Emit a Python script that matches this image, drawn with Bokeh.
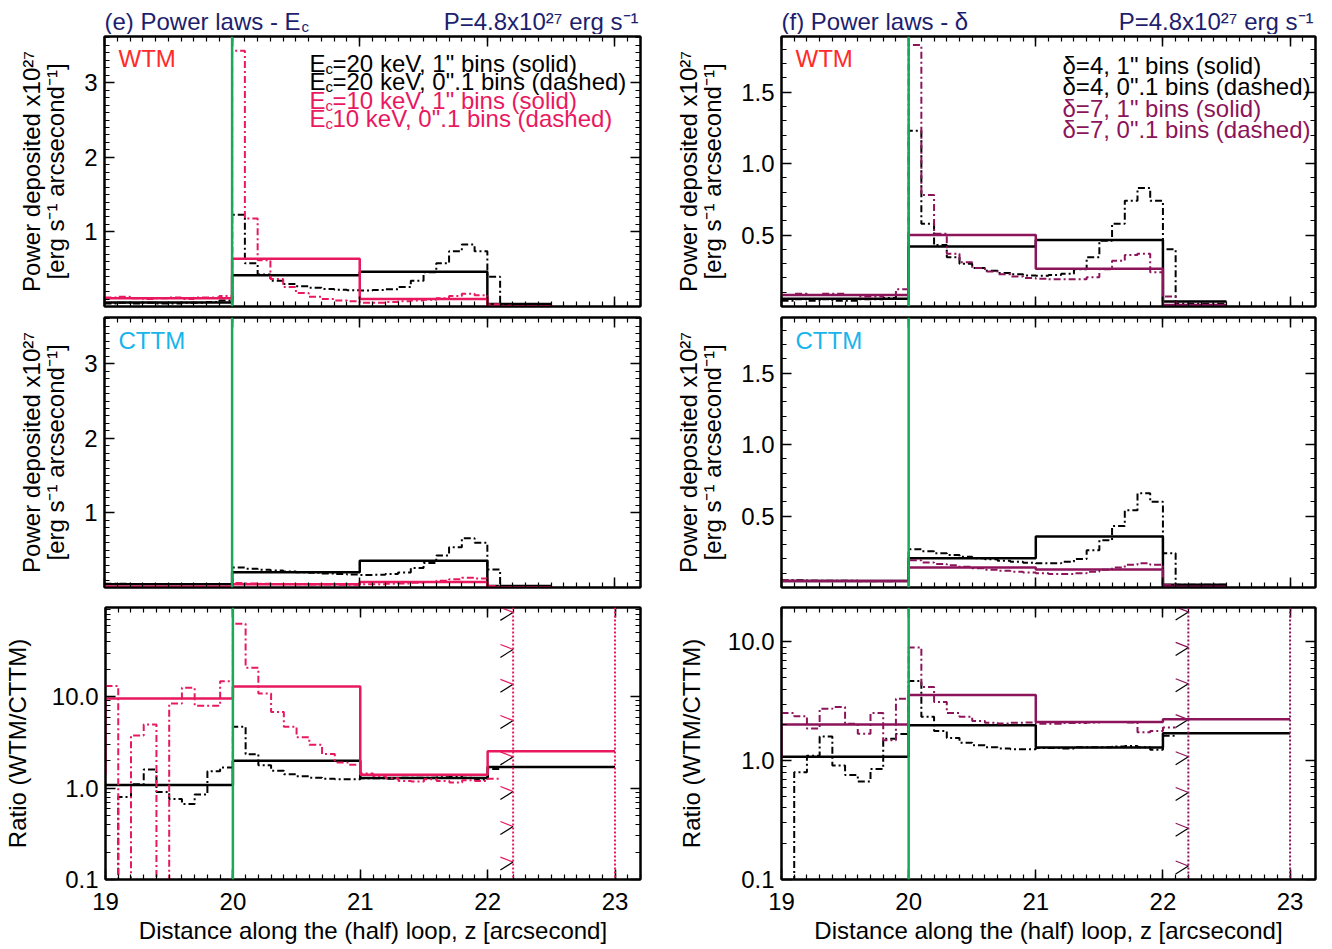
import numpy as np
from bokeh.plotting import figure
from bokeh.models import (Range1d, FixedTicker, LinearAxis, LogAxis, Label, Span,
                          CustomJSTickFormatter, PrintfTickFormatter)
from bokeh.layouts import column, row
from bokeh.embed import file_html
from bokeh.resources import INLINE

FONT = "Liberation Sans"
BLACK = "#000000"
PINK = "#e8195f"
PURPLE = "#8c145a"
GREEN = "#1aa85a"
NAVY = "#1e1e6e"
RED = "#ff2a2a"
CYAN = "#18b4ec"
DASHDOT = "7 3 2 3"

# ---------------- data ----------------
coarse_edges = [19.0, 20.0, 21.0, 22.0, 22.5]
ratio_coarse_edges = [19.0, 20.0, 21.0, 22.0, 23.0]
fine_start = 19.0
fine_step = 0.1
n_fine_power = 35
n_fine_ratio = 31

# power deposited (x1e27 erg/s/arcsec), WTM, 0.1" bins (z = 19.0 .. 22.5)
wtm_fine_ref = [0.04, 0.05, 0.04, 0.05, 0.04, 0.04, 0.05, 0.05, 0.06, 0.08,
                1.23, 0.58, 0.43, 0.345, 0.30, 0.27, 0.25, 0.235, 0.225, 0.217,
                0.215, 0.22, 0.23, 0.26, 0.345, 0.46, 0.58, 0.74, 0.83, 0.74,
                0.40, 0.02, 0.02, 0.02, 0.02]
wtm_fine_ec10 = [0.12, 0.13, 0.11, 0.10, 0.11, 0.12, 0.10, 0.12, 0.12, 0.14,
                 3.43, 1.18, 0.62, 0.37, 0.26, 0.18, 0.13, 0.10, 0.08, 0.07,
                 0.05, 0.05, 0.06, 0.07, 0.08, 0.09, 0.11, 0.14, 0.17, 0.15,
                 0.03, 0.01, 0.005, 0.005, 0.005]
wtm_fine_d7 = [0.08, 0.09, 0.08, 0.09, 0.09, 0.08, 0.07, 0.07, 0.08, 0.12,
               1.83, 0.78, 0.51, 0.37, 0.31, 0.27, 0.245, 0.225, 0.21, 0.20,
               0.195, 0.19, 0.19, 0.19, 0.205, 0.26, 0.32, 0.36, 0.37, 0.24,
               0.07, 0.01, 0.01, 0.01, 0.01]
# CTTM, 0.1" bins
cttm_fine_ref = [0.05, 0.05, 0.048, 0.048, 0.047, 0.047, 0.046, 0.046, 0.046, 0.046,
                 0.267, 0.253, 0.239, 0.227, 0.215, 0.204, 0.197, 0.187, 0.18, 0.173,
                 0.169, 0.17, 0.18, 0.20, 0.26, 0.33, 0.43, 0.54, 0.66, 0.60,
                 0.24, 0.02, 0.02, 0.02, 0.02]
cttm_fine_ec10 = [0.012, 0.011, 0.011, 0.01, 0.01, 0.01, 0.01, 0.009, 0.009, 0.009,
                  0.06, 0.055, 0.05, 0.048, 0.045, 0.043, 0.041, 0.04, 0.038, 0.037,
                  0.045, 0.045, 0.05, 0.055, 0.065, 0.075, 0.09, 0.11, 0.13, 0.12,
                  0.02, 0.002, 0.002, 0.002, 0.002]
cttm_fine_d7 = [0.05, 0.048, 0.047, 0.046, 0.045, 0.045, 0.044, 0.044, 0.044, 0.045,
                0.19, 0.175, 0.165, 0.155, 0.145, 0.135, 0.125, 0.118, 0.11, 0.105,
                0.10, 0.095, 0.095, 0.10, 0.11, 0.125, 0.14, 0.16, 0.17, 0.16,
                0.02, 0.003, 0.003, 0.003, 0.003]
# 1" bins
wtm_coarse_ref = [0.055, 0.42, 0.465, 0.035]
wtm_coarse_ec10 = [0.11, 0.64, 0.10, 0.005]
wtm_coarse_d7 = [0.08, 0.50, 0.265, 0.01]
cttm_coarse_ref = [0.045, 0.204, 0.357, 0.02]
cttm_coarse_ec10 = [0.01, 0.045, 0.075, 0.003]
cttm_coarse_d7 = [0.045, 0.14, 0.126, 0.005]

# ratio WTM/CTTM, 1" bins (z = 19 .. 23)
ratio_coarse_ref = [1.08, 1.99, 1.29, 1.70]
ratio_coarse_ec10 = [9.6, 13.0, 1.40, 2.54]
ratio_coarse_ec10_start = 1.40
ratio_coarse_d7 = [2.02, 3.57, 2.12, 2.23]
ratio_coarse_d7_start = 1.07
# ratio, 0.1" bins (z = 19.0 .. 22.1)
ratio_fine_ref = [0.05, 0.80, 1.10, 1.60, 0.91, 0.76, 0.67, 0.85, 1.53, 1.68,
                  4.7, 2.35, 1.78, 1.55, 1.42, 1.35, 1.30, 1.27, 1.25, 1.25,
                  1.28, 1.28, 1.27, 1.30, 1.30, 1.30, 1.32, 1.33, 1.30, 1.24,
                  1.62]
ratio_fine_ec10 = [13.1, 0.05, 3.77, 4.98, 0.05, 8.45, 12.6, 8.0, 8.0, 14.8,
                   63.0, 20.8, 10.9, 6.8, 4.7, 3.6, 2.98, 2.36, 1.91, 1.8,
                   1.45, 1.36, 1.28, 1.20, 1.18, 1.25, 1.20, 1.15, 1.22, 1.20,
                   1.27]
ratio_fine_d7 = [2.52, 2.37, 1.87, 2.74, 2.83, 2.05, 1.69, 2.52, 1.49, 3.33,
                 9.0, 4.17, 3.12, 2.52, 2.35, 2.16, 2.09, 2.06, 2.09, 2.10,
                 2.05, 2.05, 2.08, 2.08, 2.10, 2.12, 2.12, 2.10, 1.74, 1.78,
                 1.90]

transition_z = 20.0
limit_z = [22.2, 23.0]
marker_z = 22.2
marker_y_left = [84, 33, 13.7, 5.5, 2.2, 0.92, 0.38, 0.155]
marker_y_right = [17.9, 9.0, 4.45, 2.22, 1.08, 0.54, 0.27, 0.13]

x_major = [19, 20, 21, 22, 23]
x_range = (19.0, 23.2)
yr_left = (0.0, 3.62)
yr_right = (0.0, 1.89)
yr_ratio_left = (0.1, 95.0)
yr_ratio_right = (0.1, 19.5)

x_minor = [round(19.0 + 0.1 * i, 2) for i in range(43)]
lin_left_major = [1, 2, 3]
lin_right_major = [0.5, 1.0, 1.5]
lin_minor = [round(0.1 * i, 2) for i in range(37)]
log_major = [0.1, 1.0, 10.0, 100.0]
log_minor = [m * d for d in (0.1, 1.0, 10.0) for m in range(2, 10)]

POWER_LABEL = "Power deposited x10²⁷\n[erg s⁻¹ arcsecond⁻¹]"
RATIO_LABEL = "Ratio (WTM/CTTM)"
X_LABEL = "Distance along the (half) loop, z [arcsecond]"


def fine_edges(n):
    return [round(fine_start + fine_step * i, 2) for i in range(n + 1)]


def steps(edges, vals, start=None):
    xs, ys = [], []
    if start is not None:
        xs.append(edges[0]); ys.append(start)
    for i, v in enumerate(vals):
        xs += [edges[i], edges[i + 1]]
        ys += [v, v]
    return xs, ys


BLANK = CustomJSTickFormatter(code="return ''")


def style_axis(ax, standoff):
    ax.axis_line_width = 2
    ax.axis_line_color = "black"
    ax.major_tick_in = 10
    ax.major_tick_out = 0
    ax.minor_tick_in = 5
    ax.minor_tick_out = 0
    ax.major_tick_line_width = 1.5
    ax.minor_tick_line_width = 1.2
    ax.major_label_text_font = FONT
    ax.major_label_text_font_size = "24px"
    ax.major_label_text_color = "black"
    ax.major_label_standoff = standoff
    ax.axis_label_text_font = FONT
    ax.axis_label_text_font_size = "24px"
    ax.axis_label_text_font_style = "normal"
    ax.axis_label_text_color = "black"
    ax.axis_label_text_line_height = 0.88


def make_panel(width, height, bl, br, bt, bb, yr, log, ymajor, yminor, yfmt, xlabels,
               ylabel, ylabel_standoff):
    p = figure(width=width, height=height, output_backend="svg", toolbar_location=None,
               x_range=Range1d(*x_range), y_range=Range1d(*yr),
               y_axis_type="log" if log else "linear",
               min_border_left=bl, min_border_right=br, min_border_top=bt, min_border_bottom=bb)
    p.grid.visible = False
    p.outline_line_color = "black"
    p.outline_line_width = 2
    xt = FixedTicker(ticks=x_major, minor_ticks=x_minor)
    yt = FixedTicker(ticks=ymajor, minor_ticks=yminor)
    p.xaxis.ticker = xt
    p.yaxis.ticker = yt
    p.xaxis.formatter = PrintfTickFormatter(format="%d") if xlabels else BLANK
    p.yaxis.formatter = yfmt
    for ax in p.xaxis:
        style_axis(ax, 13)
        if xlabels:
            ax.axis_label = X_LABEL
            ax.axis_label_standoff = 4
    for ax in p.yaxis:
        style_axis(ax, 7)
        ax.axis_label = ylabel
        ax.axis_label_standoff = ylabel_standoff
    top = LinearAxis(ticker=xt, formatter=BLANK)
    right = (LogAxis if log else LinearAxis)(ticker=yt, formatter=BLANK)
    style_axis(top, 0)
    style_axis(right, 0)
    p.add_layout(top, "above")
    p.add_layout(right, "right")
    p.add_layout(Span(location=transition_z, dimension="height", line_color=GREEN, line_width=2.5))
    return p


def lab(p, x, y, text, dx=0, dy=0, color=BLACK, size="24px", align="left",
        baseline="alphabetic", angle=0.0):
    p.add_layout(Label(x=x, y=y, x_units="data", y_units="data", x_offset=dx, y_offset=dy,
                       text=text, text_font=FONT, text_font_size=size, text_color=color,
                       text_align=align, text_baseline=baseline, angle=angle))


LW_SOLID = 2.5
LW_DASH = 2.0


def draw_series(p, fine, coarse, color, n_fine, cedges, start=None):
    fx, fy = steps(fine_edges(n_fine), fine)
    p.line(fx, fy, line_color=color, line_width=LW_DASH, line_dash=DASHDOT)
    cx, cy = steps(cedges, coarse, start)
    p.line(cx, cy, line_color=color, line_width=LW_SOLID)


def header(width, height):
    h = figure(width=width, height=height, output_backend="svg", toolbar_location=None,
               x_range=Range1d(0, width), y_range=Range1d(0, height),
               min_border_left=0, min_border_right=0, min_border_top=0, min_border_bottom=0)
    h.axis.visible = False
    h.grid.visible = False
    h.outline_line_color = None
    return h


# ------------- layout geometry (page has no margin around the Bokeh root) -------------
LW, RW = 650, 673
L_BL, L_BR = 104, 10
R_BL, R_BR = 131, 8
HH, H1, H2, H3 = 34, 278, 285, 350
lin_left_fmt = PrintfTickFormatter(format="%d")
one_dec = PrintfTickFormatter(format="%.1f")

# ---- header (titles) ----
hA = header(LW, HH)
lab(hA, 104, 13, "(e) Power laws - E", color=NAVY)
lab(hA, 301, 8, "c", color=NAVY, size="15px")
lab(hA, 638, 13, "P=4.8x10²⁷ erg s⁻¹", color=NAVY, align="right")
hB = header(RW, HH)
lab(hB, 131, 13, "(f) Power laws - δ", color=NAVY)
lab(hB, 663, 13, "P=4.8x10²⁷ erg s⁻¹", color=NAVY, align="right")

# ---- row 1 : WTM ----
pA = make_panel(LW, H1, L_BL, L_BR, 2, 6, yr_left, False, lin_left_major, lin_minor,
                lin_left_fmt, False, POWER_LABEL, 12)
draw_series(pA, wtm_fine_ref, wtm_coarse_ref, BLACK, n_fine_power, coarse_edges)
draw_series(pA, wtm_fine_ec10, wtm_coarse_ec10, PINK, n_fine_power, coarse_edges)
pB = make_panel(RW, H1, R_BL, R_BR, 2, 6, yr_right, False, lin_right_major, lin_minor,
                one_dec, False, POWER_LABEL, 12)
draw_series(pB, wtm_fine_ref, wtm_coarse_ref, BLACK, n_fine_power, coarse_edges)
draw_series(pB, wtm_fine_d7, wtm_coarse_d7, PURPLE, n_fine_power, coarse_edges)

# ---- row 2 : CTTM ----
pC = make_panel(LW, H2, L_BL, L_BR, 5, 10, yr_left, False, lin_left_major, lin_minor,
                lin_left_fmt, False, POWER_LABEL, 12)
draw_series(pC, cttm_fine_ref, cttm_coarse_ref, BLACK, n_fine_power, coarse_edges)
draw_series(pC, cttm_fine_ec10, cttm_coarse_ec10, PINK, n_fine_power, coarse_edges)
pD = make_panel(RW, H2, R_BL, R_BR, 5, 10, yr_right, False, lin_right_major, lin_minor,
                one_dec, False, POWER_LABEL, 12)
draw_series(pD, cttm_fine_ref, cttm_coarse_ref, BLACK, n_fine_power, coarse_edges)
draw_series(pD, cttm_fine_d7, cttm_coarse_d7, PURPLE, n_fine_power, coarse_edges)

# ---- row 3 : ratio ----
pE = make_panel(LW, H3, L_BL, L_BR, 10, 68, yr_ratio_left, True, log_major, log_minor,
                one_dec, True, RATIO_LABEL, 18)
pF = make_panel(RW, H3, R_BL, R_BR, 10, 68, yr_ratio_right, True, log_major, log_minor,
                one_dec, True, RATIO_LABEL, 20)

for p, col, my, yr in ((pE, PINK, marker_y_left, yr_ratio_left), (pF, PURPLE, marker_y_right, yr_ratio_right)):
    for z in limit_z:
        p.add_layout(Span(location=z, dimension="height", line_color=col, line_width=2, line_dash="2 2"))
    dec_px = 272.0 / np.log10(yr[1] / yr[0])
    my = np.array(my, dtype=float)
    up = 10 ** (5.0 / dec_px)
    dn = 10 ** (-8.0 / dec_px)
    x0 = [marker_z - 0.1] * len(my)
    x1 = [marker_z] * len(my)
    p.segment(x0, list(my * up), x1, list(my), line_color=col, line_width=1.2)
    p.segment(x0, list(my * dn), x1, list(my), line_color=BLACK, line_width=1.2)

draw_series(pE, ratio_fine_ref, ratio_coarse_ref, BLACK, n_fine_ratio, ratio_coarse_edges)
draw_series(pE, ratio_fine_ec10, ratio_coarse_ec10, PINK, n_fine_ratio, ratio_coarse_edges, ratio_coarse_ec10_start)
draw_series(pF, ratio_fine_ref, ratio_coarse_ref, BLACK, n_fine_ratio, ratio_coarse_edges)
draw_series(pF, ratio_fine_d7, ratio_coarse_d7, PURPLE, n_fine_ratio, ratio_coarse_edges, ratio_coarse_d7_start)

# ---------------- in-frame texts ----------------
for p, yr in ((pA, yr_left), (pB, yr_right)):
    lab(p, x_range[0], yr[1], "WTM", dx=14, dy=-22, color=RED)
for p, yr in ((pC, yr_left), (pD, yr_right)):
    lab(p, x_range[0], yr[1], "CTTM", dx=14, dy=-23, color=CYAN)

left_leg = [("=20 keV, 1\" bins (solid)", BLACK), ("=20 keV, 0\".1 bins (dashed)", BLACK),
            ("=10 keV, 1\" bins (solid)", PINK), ("10 keV, 0\".1 bins (dashed)", PINK)]
for i, (t, c) in enumerate(left_leg):
    dy = -(27 + 18.3 * i)
    lab(pA, x_range[0], yr_left[1], "E", dx=205, dy=dy, color=c)
    lab(pA, x_range[0], yr_left[1], "c", dx=221, dy=dy - 5, color=c, size="15px")
    lab(pA, x_range[0], yr_left[1], t, dx=228, dy=dy, color=c)
right_leg = [("δ=4, 1\" bins (solid)", BLACK), ("δ=4, 0\".1 bins (dashed)", BLACK),
             ("δ=7, 1\" bins (solid)", PURPLE), ("δ=7, 0\".1 bins (dashed)", PURPLE)]
for i, (t, c) in enumerate(right_leg):
    lab(pB, x_range[0], yr_right[1], t, dx=281, dy=-(29 + 21.3 * i), color=c)

layout = column(row(hA, hB), row(pA, pB), row(pC, pD), row(pE, pF))
open("out.html", "w").write(file_html(layout, INLINE))
